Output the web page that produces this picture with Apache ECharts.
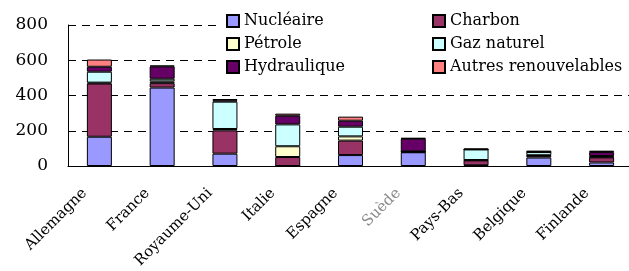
<!DOCTYPE html>
<html>
<head>
<meta charset="utf-8">
<script src="https://cdn.jsdelivr.net/npm/echarts@6/dist/echarts.min.js"></script>
<style>
  html, body { margin: 0; padding: 0; background: #fff; }
  #chart { width: 629px; height: 271px; }
</style>
</head>
<body>
<div id="chart"></div>
<script>
// pays
var pays = ['Allemagne', 'France', 'Royaume-Uni', 'Italie', 'Espagne', 'Suède', 'Pays-Bas', 'Belgique', 'Finlande'];

// production par source (TWh)
var nucleaire   = [166, 445,  70,   0,  62, 78,  4, 48, 20];
var charbon     = [302,  25, 132,  51,  82,  2, 28, 10, 29];
var petrole     = [  5,  10,   8,  61,  24,  2,  2,  3,  3];
var gazNaturel  = [ 62,  15, 155, 124,  55,  1, 60, 18,  5];
var hydraulique = [ 28,  70,   8,  49,  34, 72,  0,  1, 22];
var autres      = [ 41,   5,   7,  12,  23,  4,  5,  7,  8];

var yTicks = [0, 200, 400, 600, 800];

var serif = 'DejaVu Serif';

var sources = [
    { name: 'Nucléaire', data: nucleaire, color: '#9999FF' },
    { name: 'Charbon', data: charbon, color: '#993366' },
    { name: 'Pétrole', data: petrole, color: '#FFFFCC' },
    { name: 'Gaz naturel', data: gazNaturel, color: '#CCFFFF' },
    { name: 'Hydraulique', data: hydraulique, color: '#660066' },
    { name: 'Autres renouvelables', data: autres, color: '#FF8080' }
];

var chart = echarts.init(document.getElementById('chart'));

var legendBase = {
    orient: 'vertical',
    top: 13,
    padding: 0,
    itemWidth: 12,
    itemHeight: 12,
    itemGap: 7,
    icon: 'rect',
    selectedMode: false,
    textStyle: { fontFamily: serif, fontSize: 16, color: '#000', lineHeight: 14 }
};

chart.setOption({
    animation: false,
    backgroundColor: '#fff',
    graphic: [{
        type: 'rect',
        z: 3,
        shape: { x: 220, y: 5, width: 409, height: 73 },
        style: { fill: '#fff' }
    }],
    legend: [
        Object.assign({}, legendBase, { left: 226, data: ['Nucléaire', 'Pétrole', 'Hydraulique'] }),
        Object.assign({}, legendBase, { left: 432, data: ['Charbon', 'Gaz naturel', 'Autres renouvelables'] })
    ],
    grid: { left: 68, top: 25, width: 565, height: 141, outerBoundsMode: 'none', containLabel: false },
    xAxis: {
        type: 'category',
        data: pays,
        axisLine: { lineStyle: { color: '#000', width: 1 } },
        axisTick: { show: false },
        axisLabel: {
            rotate: 45,
            margin: 10,
            interval: 0,
            padding: [0, 21, 0, 0],
            fontFamily: serif,
            fontSize: 15,
            color: '#000',
            formatter: function (v) {
                return v === 'Suède' ? '{flou|' + v + '}' : v;
            },
            rich: {
                flou: { color: '#8a8a8a', fontFamily: serif, fontSize: 15 }
            }
        }
    },
    yAxis: {
        type: 'value',
        min: yTicks[0],
        max: yTicks[yTicks.length - 1],
        interval: 200,
        axisLine: { show: true, lineStyle: { color: '#000', width: 1 } },
        axisTick: { show: false },
        axisLabel: { margin: 20, fontFamily: serif, fontSize: 17, color: '#000' },
        splitLine: { lineStyle: { color: '#000', type: [8, 6], width: 1 } }
    },
    series: sources.map(function (s) {
        return {
            name: s.name,
            type: 'bar',
            stack: 'total',
            data: s.data,
            barWidth: 25,
            itemStyle: { color: s.color, borderColor: '#000', borderWidth: 1 }
        };
    })
});
</script>
</body>
</html>
